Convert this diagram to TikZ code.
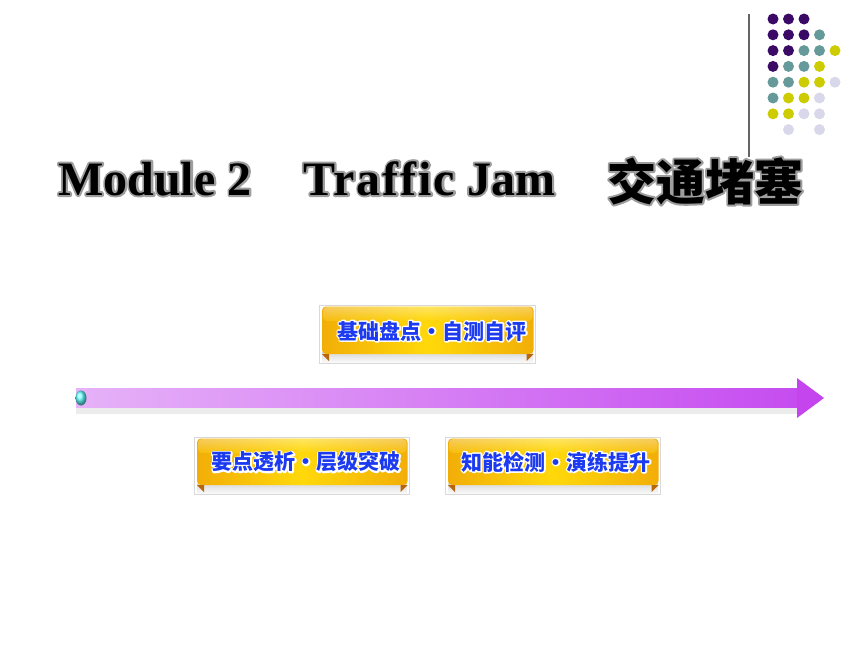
\documentclass[tikz,border=0pt]{standalone}
\usepackage{fontspec}
\setmainfont{Liberation Serif}
\newfontfamily\trafficfont{Liberation Serif}[Ligatures=NoCommon,LetterSpace=4]
\newfontfamily\plainfont{Liberation Serif}[Ligatures=NoCommon]
\newfontfamily\cjk{Noto Sans CJK SC}
\usetikzlibrary{calc,shadings}
\definecolor{dpurple}{HTML}{3B0A66}
\definecolor{dteal}{HTML}{669A9A}
\definecolor{dyellow}{HTML}{CCCC00}
\definecolor{dlav}{HTML}{D8D8EA}
\definecolor{goldE}{HTML}{F2AE08}
\definecolor{goldM}{HTML}{FFD80A}
\definecolor{foldc}{HTML}{B8660A}
\definecolor{btext}{HTML}{1C3AF0}
\definecolor{shaftL}{HTML}{E6B2F8}
\definecolor{shaftR}{HTML}{C64CF0}
\definecolor{headc}{HTML}{C444EE}
% halo: stroked copy behind, filled copy on top, in one node
\newcommand{\halo}[3]{% width, stroke rgb, text
  \rlap{\special{pdf:literal direct 1 Tr #1 w 1 j #2 RG}#3\special{pdf:literal direct 0 Tr}}#3}
\tikzset{
  dot/.style={circle,inner sep=0pt,minimum size=11pt},
  titlefont/.style={inner sep=0pt,font=\plainfont\fontsize{48}{48}\selectfont\bfseries},
  cjktitle/.style={inner sep=0pt,font=\cjk\bfseries\fontsize{49}{49}\selectfont},
  bantext/.style={inner sep=0pt,text=btext,font=\cjk\bfseries\fontsize{21}{21}\selectfont},
}
\newcommand{\banner}[4]{% x1,y1,x2,y2
  \fill[white] (#1,#2) rectangle (#3,#4);
  \draw[gray!30,line width=0.6pt] (#1,#2) rectangle (#3,#4);
  \shade[top color=gray!30,bottom color=gray!5] ($(#1,#4)+(3,-11)$) rectangle ($(#3,#4)+(-2,-1)$);
  \shade[rounded corners=4pt,left color=goldE,right color=goldE,middle color=goldM]
     ($(#1,#2)+(3,1.5)$) rectangle ($(#3,#4)+(-1.5,-9)$);
  \shade[rounded corners=4pt,top color=white,bottom color=goldM,opacity=0.35]
     ($(#1,#2)+(4,2)$) rectangle ($(#3,#2)+(-2.5,16)$);
  \fill[foldc] ($(#1,#4)+(3,-9)$) -- ($(#1,#4)+(10,-9)$) -- ($(#1,#4)+(10,-2)$) -- cycle;
  \fill[foldc] ($(#3,#4)+(-1.5,-9)$) -- ($(#3,#4)+(-8.5,-9)$) -- ($(#3,#4)+(-8.5,-2)$) -- cycle;
}
\begin{document}
\begin{tikzpicture}[x=1pt,y=-1pt]
\useasboundingbox (0,0) rectangle (860,645);
\fill[white] (0,0) rectangle (860,645);
% dots
\foreach \r/\c/\col in {1/1/dpurple,1/2/dpurple,1/3/dpurple,
  2/1/dpurple,2/2/dpurple,2/3/dpurple,2/4/dteal,
  3/1/dpurple,3/2/dpurple,3/3/dteal,3/4/dteal,3/5/dyellow,
  4/1/dpurple,4/2/dteal,4/3/dteal,4/4/dyellow,
  5/1/dteal,5/2/dteal,5/3/dyellow,5/4/dyellow,5/5/dlav,
  6/1/dteal,6/2/dyellow,6/3/dyellow,6/4/dlav,
  7/1/dyellow,7/2/dyellow,7/3/dlav,7/4/dlav,
  8/2/dlav,8/4/dlav}
  \node[dot,fill=\col] (d\r\c) at ({773+15.5*(\c-1)},{19+15.8*(\r-1)}) {};
\draw[gray!80!black,line width=1.4pt] (749,14) -- (749,157);
% title
\node[titlefont,anchor=base west] (tmod) at (58,195) {\halo{4}{0.62 0.62 0.62}{Module 2}};
\node[titlefont,anchor=base west] (ttraf) at (303,195)
  {\halo{4}{0.62 0.62 0.62}{{\trafficfont\bfseries Traffic}\hspace{12pt}Jam}};
\node[cjktitle,anchor=west] (tcjk) at (607,181) {\halo{4}{0.62 0.62 0.62}{交通堵塞}};
% banners
\banner{319}{305}{535}{363}
\node[bantext] (bone) at (432,331) {\halo{3}{1 1 1}{基础盘点・自测自评}};
\banner{194}{437}{409}{494}
\node[bantext] (btwo) at (306,462) {\halo{3}{1 1 1}{要点透析・层级突破}};
\banner{445}{437}{660}{494}
\node[bantext] (bthree) at (556,462) {\halo{3}{1 1 1}{知能检测・演练提升}};
% arrow
\fill[gray!15] (76,405) rectangle (797,414);
\shade[left color=shaftL,right color=shaftR] (76,388) rectangle (798,407);
\fill[headc] (797,378) -- (824,398) -- (797,418) -- cycle;
\shade[ball color=cyan!60!white] (81,398) ellipse [x radius=5.5, y radius=7.5];
\end{tikzpicture}
\end{document}
